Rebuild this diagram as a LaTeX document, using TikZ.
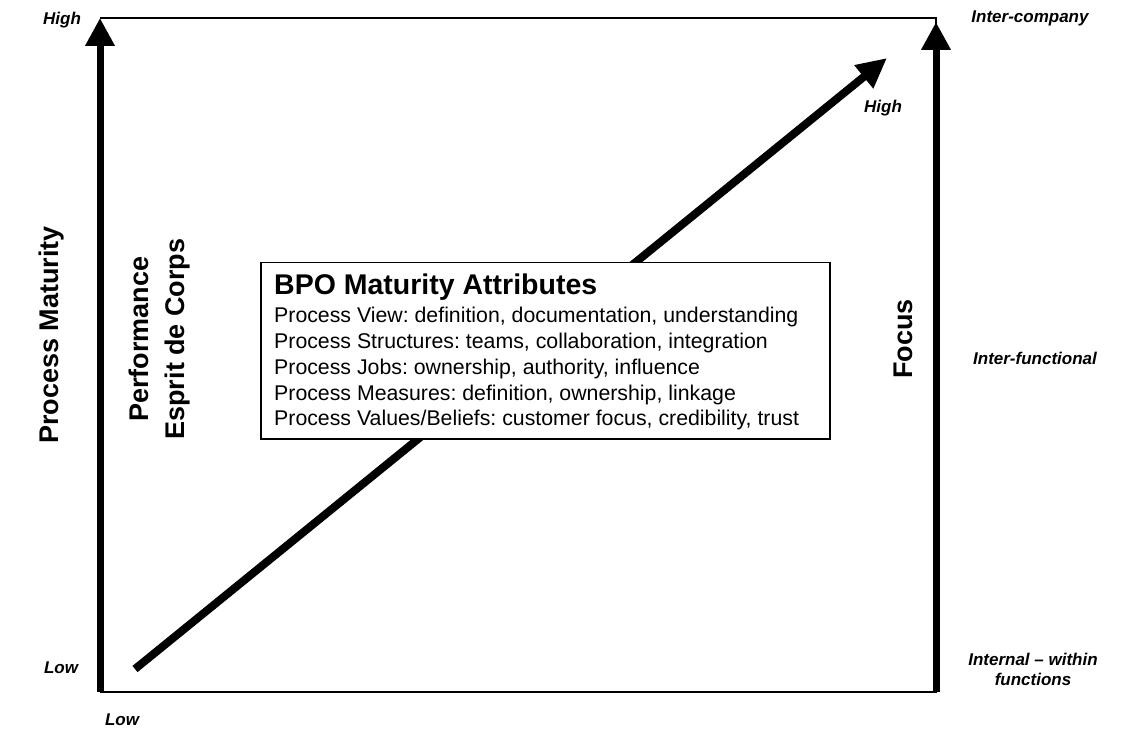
\documentclass[tikz,border=0pt]{standalone}
\usepackage{fontspec}
\setmainfont{Liberation Sans}
\usetikzlibrary{arrows.meta}
\begin{document}
\begin{tikzpicture}[x=1pt,y=-1pt,
  frameline/.style={line width=1.6pt},
  bigarrow/.style={line width=7pt,-{Triangle[length=28pt,width=28pt]}},
  diagarrow/.style={line width=8pt,-{Triangle[length=30pt,width=28pt]}},
  smalllab/.style={font=\fontsize{17}{20}\selectfont\bfseries\itshape, align=center, inner sep=0pt},
  axislab/.style={font=\fontsize{27}{36}\selectfont\bfseries, rotate=90, align=center, inner sep=0pt},
  attrbox/.style={draw, line width=1.5pt, fill=white, anchor=north west, minimum width=569pt, minimum height=176pt, inner sep=0pt},
  attrtext/.style={anchor=north west, align=left, inner sep=0pt, font=\fontsize{21.3}{25.8}\selectfont\frenchspacing}
]
\useasboundingbox (0,0) rectangle (1137,743);
\coordinate (lb) at (100,692);
\coordinate (lt) at (100,18);
\coordinate (tr) at (936,18);
\coordinate (rb) at (936,692);
\coordinate (rt) at (936,22);
\coordinate (ds) at (135,669);
\coordinate (de) at (887,58);
% frame
\draw[frameline] (lt) -- (tr) -- (rb) -- (lb);
% axes
\draw[bigarrow] (lb) -- (lt);
\draw[bigarrow] (rb) -- (rt);
% diagonal
\draw[diagarrow] (ds) -- (de);
% box
\node[attrbox] (box) at (260,262) {};
\node[attrtext] (boxtext) at (274,274)
 {{\fontsize{28.5}{30}\selectfont\bfseries BPO Maturity Attributes}\\[2pt]
  Process View: definition, documentation, understanding\\
  Process Structures: teams, collaboration, integration\\
  Process Jobs: ownership, authority, influence\\
  Process Measures: definition, ownership, linkage\\
  Process Values/Beliefs: customer focus, credibility, trust};
% axis labels
\node[axislab] (pm) at (52,335) {Process Maturity};
\node[axislab] (perf) at (160,339) {Performance\\Esprit de Corps};
\node[axislab] (focus) at (903,339) {Focus};
% small labels
\node[smalllab] (hightl) at (62,20) {High};
\node[smalllab] (lowl) at (61,668) {Low};
\node[smalllab] (lowb) at (122,720) {Low};
\node[smalllab] (highd) at (883,108) {High};
\node[smalllab] (interc) at (1030,18) {Inter-company};
\node[smalllab] (interf) at (1035,358) {Inter-functional};
\node[smalllab] (intern) at (1033,669) {Internal -- within\\functions};
\end{tikzpicture}
\end{document}
